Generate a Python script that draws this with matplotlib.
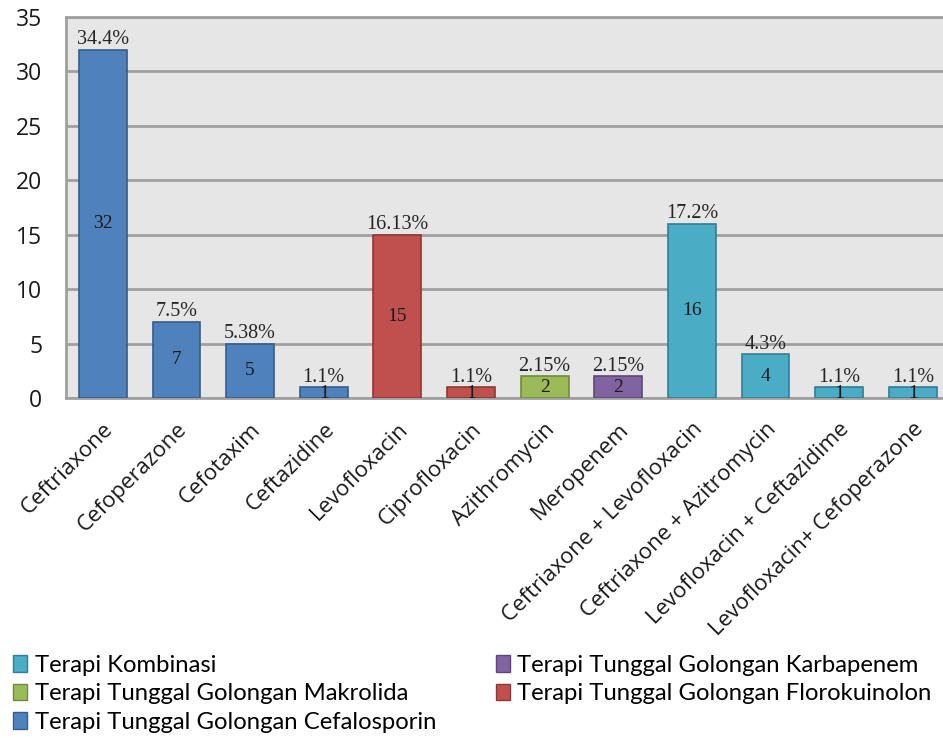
import numpy as np
import matplotlib.pyplot as plt
from matplotlib.patches import Patch

# data
obat = ['Ceftriaxone', 'Cefoperazone', 'Cefotaxim', 'Ceftazidine', 'Levofloxacin',
        'Ciprofloxacin', 'Azithromycin', 'Meropenem', 'Ceftriaxone + Levofloxacin',
        'Ceftriaxone + Azitromycin', 'Levofloxacin + Ceftazidime', 'Levofloxacin+ Cefoperazone']
jumlah = [32, 7, 5, 1, 15, 1, 2, 2, 16, 4, 1, 1]
persen = ['34.4%', '7.5%', '5.38%', '1.1%', '16.13%', '1.1%', '2.15%', '2.15%',
          '17.2%', '4.3%', '1.1%', '1.1%']
golongan = ['cef', 'cef', 'cef', 'cef', 'flo', 'flo', 'mak', 'kar', 'kom', 'kom', 'kom', 'kom']

warna = {'kom': ('#4BACC6', '#357D91'), 'kar': ('#8064A2', '#5C4776'),
         'mak': ('#9BBB59', '#71893F'), 'flo': ('#C0504D', '#8C3836'),
         'cef': ('#4F81BD', '#385D8A')}
legend_label = [('kom', 'Terapi Kombinasi'),
                ('mak', 'Terapi Tunggal Golongan Makrolida'),
                ('cef', 'Terapi Tunggal Golongan Cefalosporin'),
                ('kar', 'Terapi Tunggal Golongan Karbapenem'),
                ('flo', 'Terapi Tunggal Golongan Florokuinolon')]

fig = plt.figure(figsize=(9.43, 7.38), dpi=100)
ax = fig.add_axes([0.07, 0.4607, 0.937, 0.5163])
ax.set_facecolor('#E6E6E6')

x = np.arange(len(obat))
fc = [warna[g][0] for g in golongan]
ec = [warna[g][1] for g in golongan]
ax.bar(x, jumlah, width=0.65, color=fc, edgecolor=ec, linewidth=1.2, zorder=3)

for xi, v, p in zip(x, jumlah, persen):
    ax.text(xi, v + 0.05, p, ha='center', va='bottom', fontsize=14.5,
            family='Liberation Serif', color='#262626', zorder=4)
    ax.text(xi, v / 2 if v > 1 else 0.4, str(v), ha='center', va='center', fontsize=14,
            family='Liberation Serif', color='#1a1a1a', zorder=4)

ax.set_xlim(-0.5, len(obat) - 0.5)
ax.set_ylim(0, 35)
ax.set_yticks(range(0, 36, 5))
ax.yaxis.grid(True, color='#A0A0A0', linewidth=2, zorder=1)
ax.set_axisbelow(True)
for s in ['left', 'bottom', 'top']:
    ax.spines[s].set_color('#A0A0A0')
    ax.spines[s].set_linewidth(2)
ax.spines['right'].set_visible(False)

ax.tick_params(axis='y', length=0, pad=17, labelsize=16.5)
ax.tick_params(axis='x', length=0, pad=15, labelsize=16)
ax.set_xticks(x)
ax.set_xticklabels(obat, rotation=45, ha='right', rotation_mode='anchor')
for t in ax.get_xticklabels() + ax.get_yticklabels():
    t.set_family('Open Sans')
    t.set_color('#1a1a1a')

handles = [Patch(facecolor=warna[k][0], edgecolor=warna[k][1], label=l) for k, l in legend_label]
fig.legend(handles=handles, ncol=2, loc='upper left', bbox_to_anchor=(0.0, 0.13),
           frameon=False, prop={'family': 'Lato', 'size': 17.2}, handlelength=0.6,
           handleheight=0.7, handletextpad=0.3, columnspacing=2.5, labelspacing=0.3,
           borderaxespad=0.15)

fig.savefig('out.png', dpi=100)
